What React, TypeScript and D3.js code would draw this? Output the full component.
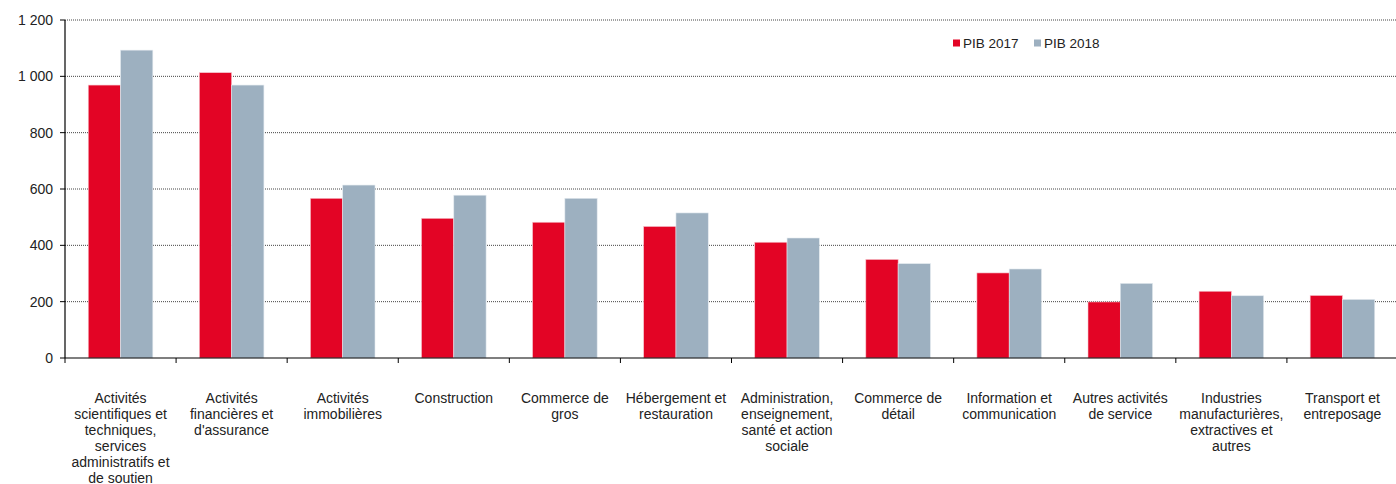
import React from "react";
import * as d3 from "d3";

const categories: string[][] = [
  ["Activités", "scientifiques et", "techniques,", "services", "administratifs et", "de soutien"],
  ["Activités", "financières et", "d'assurance"],
  ["Activités", "immobilières"],
  ["Construction"],
  ["Commerce de", "gros"],
  ["Hébergement et", "restauration"],
  ["Administration,", "enseignement,", "santé et action", "sociale"],
  ["Commerce de", "détail"],
  ["Information et", "communication"],
  ["Autres activités", "de service"],
  ["Industries", "manufacturières,", "extractives et", "autres"],
  ["Transport et", "entreposage"],
];
const pib2017: number[] = [969, 1013, 567, 496, 482, 467, 411, 350, 302, 199, 237, 222];
const pib2018: number[] = [1093, 969, 614, 578, 567, 515, 426, 335, 316, 265, 221, 208];
const seriesNames = ["PIB 2017", "PIB 2018"];
const yTicks = [0, 200, 400, 600, 800, 1000, 1200];

const W = 1396;
const H = 484;
const left = 65;
const right = 1398;
const top = 20;
const bottom = 358;
const colors = ["#E30425", "#9DB0C0"];
const font = "'Liberation Sans', Arial, Helvetica, sans-serif";

export default function App() {
  const idx = categories.map((_, i) => i);
  const x = d3.scaleBand<number>().domain(idx).range([left, right]).paddingInner(0).paddingOuter(0);
  const inner = d3.scaleBand<number>().domain([0, 1]).range([0, x.bandwidth()]).paddingOuter(0.72).paddingInner(0);
  const y = d3.scaleLinear().domain([0, 1200]).range([bottom, top]);
  const fmt = (v: number) => d3.format(",")(v).replace(/,/g, " ");
  const series = [pib2017, pib2018];

  return (
    <svg width={W} height={H} style={{ position: "absolute", left: 0, top: 0 }} fontFamily={font}>
      {yTicks.filter((t) => t > 0).map((t) => (
        <line key={"g" + t} x1={left} x2={W} y1={y(t)} y2={y(t)} stroke="#444" strokeWidth={1} strokeDasharray="1,1" />
      ))}
      {series.map((vals, s) =>
        vals.map((v, i) => (
          <rect
            key={s + "-" + i}
            x={(x(i) as number) + (inner(s) as number)}
            y={y(v)}
            width={inner.bandwidth()}
            height={y(0) - y(v)}
            fill={colors[s]}
            stroke={s === 0 ? "#f6c7cf" : "#e3e9ee"}
            strokeWidth={0.6}
          />
        ))
      )}
      <line x1={left} x2={left} y1={top} y2={bottom} stroke="#000" strokeWidth={1.2} />
      <line x1={left} x2={W} y1={bottom} y2={bottom} stroke="#000" strokeWidth={1.2} />
      {yTicks.map((t) => (
        <g key={"t" + t}>
          <line x1={left - 5} x2={left} y1={y(t)} y2={y(t)} stroke="#000" />
          <text x={53} y={y(t)} dy="0.35em" textAnchor="end" fontSize={14} fill="#222">
            {fmt(t)}
          </text>
        </g>
      ))}
      {idx.concat([idx.length]).map((i) => {
        const xx = left + i * x.step();
        return <line key={"xt" + i} x1={xx} x2={xx} y1={bottom} y2={bottom + 5} stroke="#000" />;
      })}
      {categories.map((lines, i) => (
        <text key={"c" + i} x={(x(i) as number) + x.bandwidth() / 2} y={403} textAnchor="middle" fontSize={14} fill="#222">
          {lines.map((l, j) => (
            <tspan key={j} x={(x(i) as number) + x.bandwidth() / 2} y={403 + j * 16}>
              {l}
            </tspan>
          ))}
        </text>
      ))}
      {seriesNames.map((n, s) => {
        const lx = 953 + s * 81;
        return (
          <g key={n}>
            <rect x={lx} y={39.5} width={7} height={7} fill={colors[s]} />
            <text x={lx + 10} y={43} dy="0.35em" fontSize={13.5} fill="#222">
              {n}
            </text>
          </g>
        );
      })}
    </svg>
  );
}
